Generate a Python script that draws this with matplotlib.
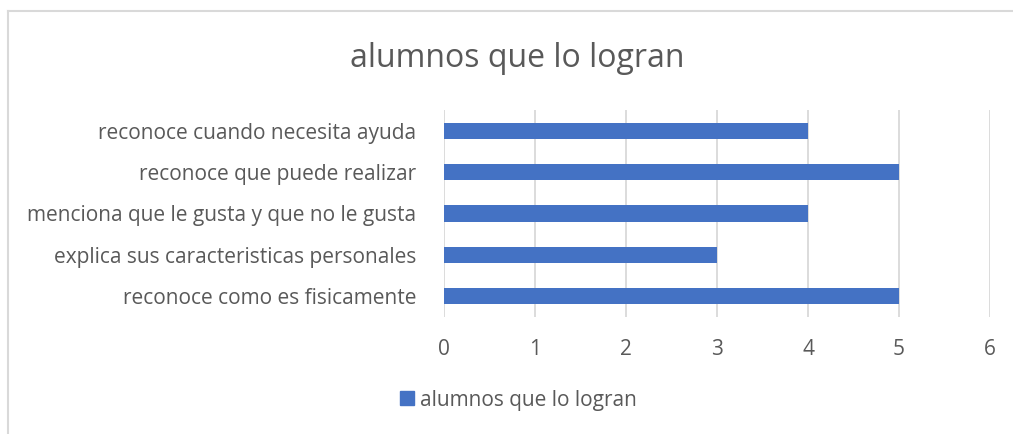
import matplotlib.pyplot as plt
from matplotlib.lines import Line2D
from matplotlib.patches import Patch

# datos del grafico
categorias = ["reconoce como es fisicamente",
              "explica sus caracteristicas personales",
              "menciona que le gusta y que no le gusta",
              "reconoce que puede realizar",
              "reconoce cuando necesita ayuda"]
alumnos = [5, 3, 4, 5, 4]
serie = "alumnos que lo logran"

azul = "#4472C4"
gris_texto = "#595959"
gris_linea = "#D9D9D9"

plt.rcParams['font.family'] = ['Open Sans', 'DejaVu Sans']

fig = plt.figure(figsize=(10.13, 4.34), dpi=100)
ax = fig.add_axes([0.4383, 0.2696, 0.539, 0.477])

y = range(len(categorias))
ax.barh(y, alumnos, height=0.39, color=azul, zorder=3)

ax.set_xlim(0, 6)
ax.set_ylim(-0.5, len(categorias) - 0.5)
ax.set_xticks(range(7))
ax.set_yticks(list(y))
ax.set_yticklabels(categorias)
ax.grid(axis='x', color=gris_linea, linewidth=1.3, zorder=0)
for s in ax.spines.values():
    s.set_visible(False)
ax.tick_params(length=0, labelsize=15, labelcolor=gris_texto)
ax.tick_params(axis='x', pad=16)
ax.tick_params(axis='y', pad=20)

fig.text(0.511, 0.866, serie, ha='center', va='center', fontsize=23, color=gris_texto)

fig.legend(handles=[Patch(color=azul, label=serie)], loc='center',
           bbox_to_anchor=(0.512, 0.078), frameon=False, fontsize=15,
           labelcolor=gris_texto, handlelength=0.65, handleheight=0.65,
           handletextpad=0.3)

# borde del area del grafico
fig.add_artist(Line2D([0.008, 0.008], [0, 0.975], color=gris_linea, linewidth=1.5))
fig.add_artist(Line2D([0.008, 1.0], [0.975, 0.975], color=gris_linea, linewidth=1.5))

fig.savefig("out.png", dpi=100)
